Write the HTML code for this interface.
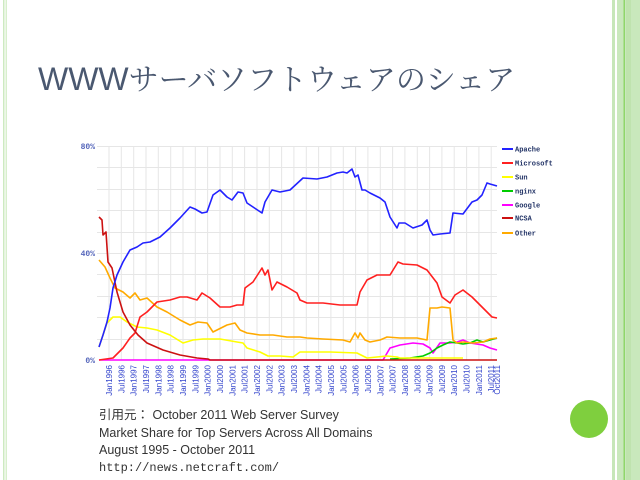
<!DOCTYPE html>
<html><head><meta charset="utf-8"><style>
html,body{margin:0;padding:0;background:#fff;width:640px;height:480px;overflow:hidden}
</style></head><body>
<svg width="640" height="480" xmlns="http://www.w3.org/2000/svg" style="display:block">
<rect x="3" y="0" width="1.5" height="480" fill="#cdeac0"/>
<rect x="5.5" y="0" width="1.5" height="480" fill="#d8efcd"/>
<rect x="612" y="0" width="3" height="480" fill="#c6e6b8"/>
<rect x="617" y="0" width="23" height="480" fill="#c9e8bc"/>
<rect x="623.5" y="0" width="1.5" height="480" fill="#8fd66a"/>
<rect x="626" y="0" width="5" height="480" fill="#bfe3ae"/>
<circle cx="589" cy="419" r="19" fill="#7fcf3e"/>
<text x="38" y="90" font-family="Liberation Sans, sans-serif" font-size="32" fill="#4a5870">WWW<tspan font-family="Noto Serif CJK SC, serif" font-size="30">サーバソフトウェアのシェア</tspan></text>
<g stroke="#e6e6e6" stroke-width="1">
<line x1="97" y1="146.5" x2="497" y2="146.5"/>
<line x1="97" y1="167.5" x2="497" y2="167.5"/>
<line x1="97" y1="189.5" x2="497" y2="189.5"/>
<line x1="97" y1="210.5" x2="497" y2="210.5"/>
<line x1="97" y1="232.5" x2="497" y2="232.5"/>
<line x1="97" y1="253.5" x2="497" y2="253.5"/>
<line x1="97" y1="274.5" x2="497" y2="274.5"/>
<line x1="97" y1="296.5" x2="497" y2="296.5"/>
<line x1="97" y1="317.5" x2="497" y2="317.5"/>
<line x1="97" y1="339.5" x2="497" y2="339.5"/>
</g>
<g id="vg" stroke="#e6e6e6" stroke-width="1"></g>
<g font-family="Liberation Mono, monospace" font-size="8" font-weight="bold" fill="#5566bb" text-anchor="end">
<text x="95" y="149">80%</text><text x="95" y="256">40%</text><text x="95" y="363">0%</text>
</g>
<g id="xl" font-family="Liberation Sans, sans-serif" font-size="8" fill="#3344cc"></g>
<g fill="none" stroke-width="1.6" stroke-linejoin="round">
<polyline stroke="#ff00ff" points="99,360 383,360 390,348 400,345 413,343 423,344 430,348 433,353 440,343 450,343 457,342 463,340 470,343 483,345 490,348 497,350"/>
<polyline stroke="#00cc00" points="390,359 410,358 423,356 430,353 437,348 443,345 450,342 457,343 463,344 470,343 477,340 483,342 490,340 497,338"/>
<polyline stroke="#ffff00" points="99,347 103,335 107,323 113,317 120,317 127,322 137,327 147,328 157,330 170,335 183,343 193,340 203,339 220,339 237,342 243,343 247,348 260,352 268,356 280,356 293,357 300,352 310,352 330,352 357,353 367,358 377,357 387,356 397,357 400,358 430,358 463,358"/>
<polyline stroke="#ffaa00" points="99,260 105,267 110,278 115,288 123,292 130,298 135,293 140,300 147,298 157,307 167,312 180,320 190,325 198,322 207,323 213,332 227,325 235,323 240,330 247,333 260,335 273,335 287,337 300,337 307,338 323,339 343,340 350,342 355,333 358,338 360,333 365,340 370,342 380,340 387,337 400,338 417,338 427,340 430,308 437,308 442,307 450,308 453,340 457,343 463,342 473,343 483,342 490,339 497,338"/>
<polyline stroke="#ff2020" points="99,360 113,358 123,348 130,338 135,333 140,317 147,312 157,302 170,300 180,297 187,297 197,300 202,293 210,298 220,307 230,307 237,305 243,305 245,288 253,282 262,268 265,275 268,270 272,290 277,282 287,287 297,293 300,300 307,303 323,303 340,305 357,305 360,292 367,280 377,275 390,275 398,262 403,264 417,265 427,270 437,283 442,297 450,303 455,295 463,290 472,297 483,308 492,317 497,318"/>
<polyline stroke="#cc1111" points="99,217 102,220 103,235 106,232 108,262 112,268 117,292 123,312 130,325 138,335 147,343 163,350 180,355 197,358 208,359 210,360 497,360"/>
<polyline stroke="#2222ff" points="99,347 103,335 107,322 110,308 113,288 117,275 123,262 130,250 137,247 143,243 150,242 160,237 170,228 180,218 190,207 195,209 202,213 207,212 213,195 220,190 227,197 232,200 238,192 243,193 247,203 253,207 262,213 265,202 272,190 280,192 290,190 303,178 317,179 327,177 337,173 343,172 347,173 352,169 355,177 358,175 362,190 365,190 370,193 380,198 385,202 390,217 397,228 399,223 405,223 413,228 422,225 427,220 430,230 433,235 440,234 450,233 453,213 463,214 472,202 477,200 482,195 487,183 490,184 497,186"/>
</g>
<g font-family="Liberation Mono, monospace" font-size="7" font-weight="bold" fill="#223366">
<line x1="502" y1="149" x2="513" y2="149" stroke="#2222ff" stroke-width="2"/><text x="515" y="151.5">Apache</text>
<line x1="502" y1="163" x2="513" y2="163" stroke="#ff2020" stroke-width="2"/><text x="515" y="165.5">Microsoft</text>
<line x1="502" y1="177" x2="513" y2="177" stroke="#ffff00" stroke-width="2"/><text x="515" y="179.5">Sun</text>
<line x1="502" y1="191" x2="513" y2="191" stroke="#00cc00" stroke-width="2"/><text x="515" y="193.5">nginx</text>
<line x1="502" y1="205" x2="513" y2="205" stroke="#ff00ff" stroke-width="2"/><text x="515" y="207.5">Google</text>
<line x1="502" y1="218" x2="513" y2="218" stroke="#cc1111" stroke-width="2"/><text x="515" y="220.5">NCSA</text>
<line x1="502" y1="233" x2="513" y2="233" stroke="#ffaa00" stroke-width="2"/><text x="515" y="235.5">Other</text>
</g>
<g font-family="Liberation Sans, Noto Sans CJK JP, sans-serif" font-size="12.5" fill="#333">
<text x="99" y="419">引用元：  October 2011 Web Server Survey</text>
<text x="99" y="437">Market Share for Top Servers Across All Domains</text>
<text x="99" y="454">August 1995 - October 2011</text>
<text x="99" y="471" font-family="Liberation Mono, monospace" font-size="12">http://news.netcraft.com/</text>
</g>
</svg>
<script>
var ns="http://www.w3.org/2000/svg";
var vg=document.getElementById("vg"),xl=document.getElementById("xl");
var labels=[];
for(var y=1996;y<=2011;y++){labels.push("Jan"+y);labels.push("Jul"+y);}
for(var i=0;i<labels.length;i++){
 var x=109+i*12.33;
 var l=document.createElementNS(ns,"line");
 l.setAttribute("x1",x.toFixed(1));l.setAttribute("x2",x.toFixed(1));
 l.setAttribute("y1","146");l.setAttribute("y2","360");vg.appendChild(l);
 var t=document.createElementNS(ns,"text");
 t.setAttribute("transform","translate("+(x+3).toFixed(1)+",365) rotate(-90)");
 t.setAttribute("text-anchor","end");t.textContent=labels[i];xl.appendChild(t);
}
var t=document.createElementNS(ns,"text");
t.setAttribute("transform","translate(500,365) rotate(-90)");
t.setAttribute("text-anchor","end");t.textContent="Oct2011";xl.appendChild(t);
</script>
</body></html>
